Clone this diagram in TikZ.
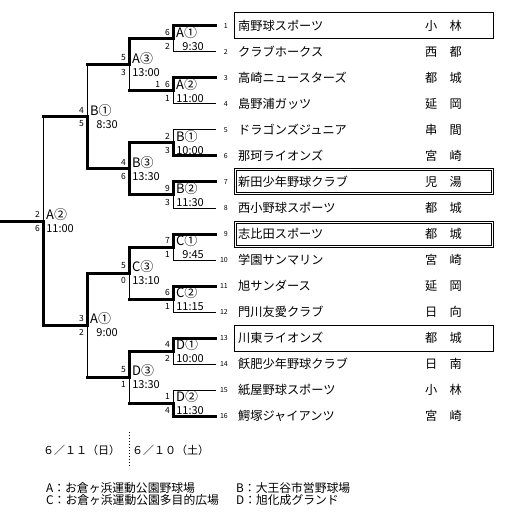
\documentclass[tikz,border=0pt]{standalone}
\usepackage{fontspec}
\setmainfont{Noto Sans CJK JP}

\begin{document}
\begin{tikzpicture}[x=1pt,y=-1pt,
    every node/.style={inner sep=0pt},
    won/.style={line width=3pt,line cap=rect},
    lost/.style={line width=1pt,line cap=rect},
    box/.style={line width=1pt},
    team/.style={font=\fontsize{12.2}{13}\selectfont},
    num/.style={font=\fontsize{7}{8}\selectfont},
    sc/.style={font=\fontsize{8.5}{9}\selectfont},
    lab/.style={font=\fontsize{13}{13}\selectfont},
    tm/.style={font=\fontsize{11}{11}\selectfont}]
    \useasboundingbox (0,0) rectangle (511,521);
    % teams, first-round lines
    \foreach \i/\name/\city/\st in {%
      1/南野球スポーツ/小　林/won, 2/クラブホークス/西　都/lost,
      3/高崎ニュースターズ/都　城/won, 4/島野浦ガッツ/延　岡/lost,
      5/ドラゴンズジュニア/串　間/lost, 6/那珂ライオンズ/宮　崎/won,
      7/新田少年野球クラブ/児　湯/won, 8/西小野球スポーツ/都　城/lost,
      9/志比田スポーツ/都　城/won, 10/学園サンマリン/宮　崎/lost,
      11/旭サンダース/延　岡/won, 12/門川友愛クラブ/日　向/lost,
      13/川東ライオンズ/都　城/won, 14/飫肥少年野球クラブ/日　南/lost,
      15/紙屋野球スポーツ/小　林/lost, 16/鰐塚ジャイアンツ/宮　崎/won}{
      \node[num,anchor=east] (k\i) at (228,26*\i) {\i};
      \node[team,anchor=west] (n\i) at (238,26*\i) {\name};
      \node[team,anchor=west] (c\i) at (425,26*\i) {\city};
      \draw[\st] (215,26*\i) -- (173,26*\i);}
    \foreach \i in {1,13}
      \draw[box] (234,26*\i-13) rectangle (493,26*\i+13);
    \foreach \i in {7,9}{
      \draw[box] (234,26*\i-13) rectangle (493,26*\i+13);
      \draw[box] (236,26*\i-11) rectangle (491,26*\i+11);}
    % matches: x, next x, top, bottom, winner (0 top,1 bottom,2 both)
    \foreach \k/\x/\nx/\t/\b/\w/\lab/\tm/\st/\sb in {%
      1/173/129/26/52/0/A①/9:30/6/2, 2/173/129/78/104/0/A②/11:00/1\hspace{5pt}6/1,
      3/173/129/130/156/1/B①/10:00/2/3, 4/173/129/182/208/0/B②/11:30/9/3,
      5/173/129/234/260/0/C①/9:45/7/1, 6/173/129/286/312/0/C②/11:15/6/1,
      7/173/129/338/364/0/D①/10:00/4/2, 8/173/129/390/416/1/D②/11:30/1/4,
      9/129/87/39/91/0/A③/13:00/5/3, 10/129/87/143/195/2/B③/13:30/4/6,
      11/129/87/247/299/0/C③/13:10/5/0, 12/129/87/351/403/0/D③/13:30/5/1,
      13/87/43/65/169/1/B①/8:30/4/5, 14/87/43/273/377/0/A①/9:00/3/2,
      15/43/0/117/325/1/A②/11:00/2/6}{
      \pgfmathsetmacro\m{(\t+\b)/2}
      \pgfmathsetmacro\ya{\w==1 ? \b : \t}
      \pgfmathsetmacro\yb{\w==2 ? \b : \m}
      \draw[lost] (\x,\t) -- (\x,\b);
      \draw[won] (\x,\ya) -- (\x,\yb);
      \draw[won] (\x,\m) -- (\nx,\m);
      \node[lab,anchor=west] (g\k) at (\x+3,\m-6) {\lab};
      \node[tm,anchor=east] (h\k) at (\x+31,\m+8) {\tm};
      \node[sc,anchor=east] (p\k) at (\x-3,\m-7) {\st};
      \node[sc,anchor=east] (q\k) at (\x-3,\m+7) {\sb};}
    % days
    \node[tm] (d1) at (81.5,450) {６／１１（日）};
    \node[tm] (d2) at (170.5,450) {６／１０（土）};
    \draw[line width=1pt,dash pattern=on 1pt off 2pt] (129,432) -- (129,468);
    % grounds
    \node[team,font=\fontsize{11.8}{12}\selectfont,align=left,anchor=north west] (l1) at (46,482)
      {A：お倉ヶ浜運動公園野球場\\C：お倉ヶ浜運動公園多目的広場};
    \node[team,font=\fontsize{11.8}{12}\selectfont,align=left,anchor=north west] (l2) at (236,482)
      {B：大王谷市営野球場\\D：旭化成グランド};
  \end{tikzpicture}
\end{document}
